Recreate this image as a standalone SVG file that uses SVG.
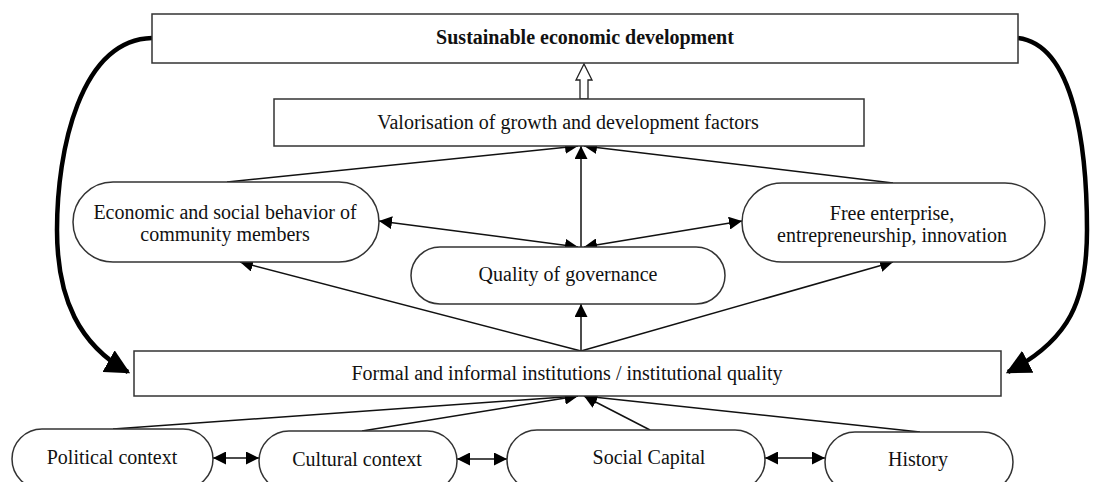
<svg xmlns="http://www.w3.org/2000/svg" width="1093" height="482" viewBox="0 0 1093 482">
<style>
.box{fill:#fff;stroke:#333;stroke-width:1.5}
.t{font-family:"Liberation Serif","Times New Roman",serif;font-size:20px;fill:#111;text-anchor:middle}
.b{font-weight:bold}
.c{fill:none;stroke:#111;stroke-width:1.5}
.thick{fill:none;stroke:#000;stroke-width:4.5}
</style>
<defs>
<marker id="ah" viewBox="0 0 10 10" refX="10" refY="5" markerWidth="13" markerHeight="13" markerUnits="userSpaceOnUse" orient="auto-start-reverse">
<path d="M0,0 L10,5 L0,10 z" fill="#000"/>
</marker>
<marker id="big" viewBox="0 0 10 10" refX="9" refY="5" markerWidth="5.5" markerHeight="5.5" orient="auto">
<path d="M0,0 L10,5 L0,10 z" fill="#000"/>
</marker>
</defs>
<rect width="1093" height="482" fill="#fff"/>
<g id="connectors">
<path class="thick" d="M152,38 C80,40 57,150 57,230 C57,300 80,345 128,372" marker-end="url(#big)"/>
<path class="thick" d="M1018,38 C1075,45 1087,150 1087,230 C1087,300 1070,340 1008,372" marker-end="url(#big)"/>
<path d="M580,99 L580,80 L576,80 L584,64 L592,80 L588,80 L588,99 z" fill="#fff" stroke="#222" stroke-width="1.3"/>
<line class="c" x1="227" y1="182" x2="578" y2="146" marker-end="url(#ah)"/>
<line class="c" x1="581" y1="247" x2="581" y2="146" marker-end="url(#ah)"/>
<line class="c" x1="893" y1="183" x2="584" y2="146" marker-end="url(#ah)"/>
<line class="c" x1="379" y1="221" x2="578" y2="247" marker-start="url(#ah)" marker-end="url(#ah)"/>
<line class="c" x1="742" y1="221" x2="584" y2="247" marker-start="url(#ah)" marker-end="url(#ah)"/>
<line class="c" x1="581" y1="351" x2="581" y2="304" marker-end="url(#ah)"/>
<line class="c" x1="581" y1="351" x2="240" y2="262" marker-end="url(#ah)"/>
<line class="c" x1="581" y1="351" x2="893" y2="262" marker-end="url(#ah)"/>
<line class="c" x1="113" y1="429" x2="578" y2="396" marker-end="url(#ah)"/>
<line class="c" x1="362" y1="431" x2="578" y2="396" marker-end="url(#ah)"/>
<line class="c" x1="650" y1="430" x2="584" y2="396" marker-end="url(#ah)"/>
<line class="c" x1="920" y1="432" x2="584" y2="396" marker-end="url(#ah)"/>
<line class="c" x1="213" y1="458" x2="259" y2="458" marker-start="url(#ah)" marker-end="url(#ah)"/>
<line class="c" x1="457" y1="459" x2="507" y2="459" marker-start="url(#ah)" marker-end="url(#ah)"/>
<line class="c" x1="765" y1="458" x2="825" y2="458" marker-start="url(#ah)" marker-end="url(#ah)"/>
</g>
<g id="sustainable">
<rect class="box" x="152" y="14" width="866" height="49"/>
<text class="t b" x="585" y="44">Sustainable economic development</text>
</g>
<g id="valorisation">
<rect class="box" x="274" y="99" width="590" height="47"/>
<text class="t" x="568" y="129">Valorisation of growth and development factors</text>
</g>
<g id="economic">
<rect class="box" x="73" y="182" width="306" height="80" rx="40" ry="40"/>
<text class="t" x="225" y="219">Economic and social behavior of</text>
<text class="t" x="225" y="241">community members</text>
</g>
<g id="free">
<rect class="box" x="742" y="183" width="303" height="79" rx="40" ry="40"/>
<text class="t" x="892" y="220">Free enterprise,</text>
<text class="t" x="892" y="242">entrepreneurship, innovation</text>
</g>
<g id="governance">
<rect class="box" x="411" y="247" width="314" height="57" rx="29" ry="29"/>
<text class="t" x="568" y="281">Quality of governance</text>
</g>
<g id="formal">
<rect class="box" x="134" y="351" width="867" height="45"/>
<text class="t" x="567" y="380">Formal and informal institutions / institutional quality</text>
</g>
<g id="political">
<rect class="box" x="12" y="429" width="201" height="60" rx="30" ry="30"/>
<text class="t" x="112" y="464">Political context</text>
</g>
<g id="cultural">
<rect class="box" x="259" y="431" width="198" height="60" rx="30" ry="30"/>
<text class="t" x="357" y="466">Cultural context</text>
</g>
<g id="social">
<rect class="box" x="507" y="430" width="258" height="60" rx="30" ry="30"/>
<text class="t" x="649" y="464">Social Capital</text>
</g>
<g id="history">
<rect class="box" x="825" y="432" width="188" height="60" rx="30" ry="30"/>
<text class="t" x="918" y="466">History</text>
</g>
</svg>
